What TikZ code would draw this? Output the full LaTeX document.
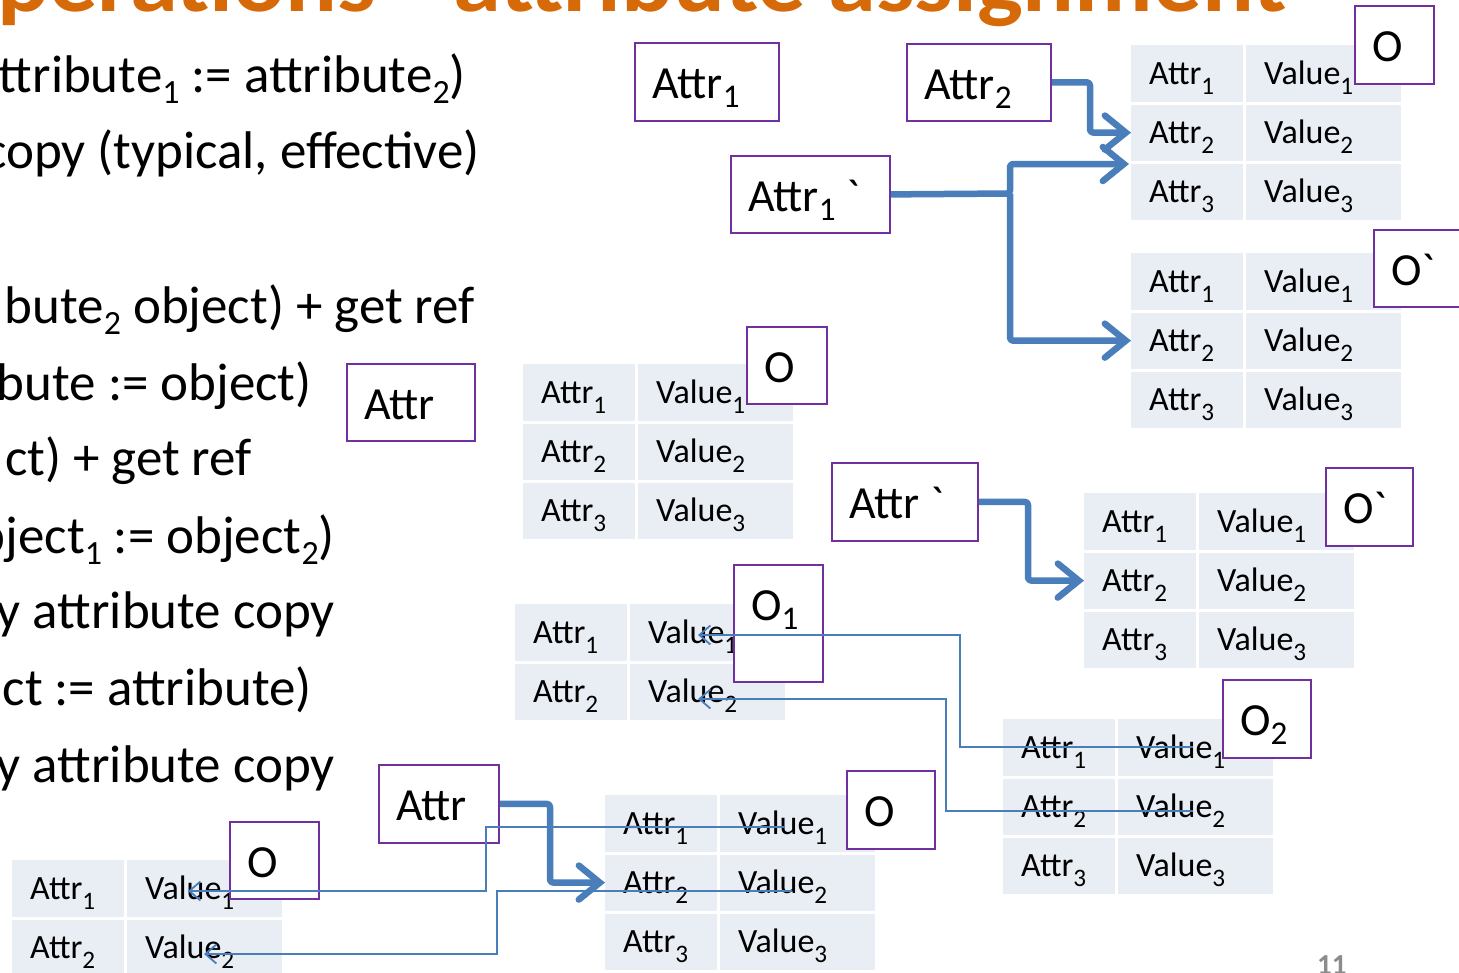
\documentclass[tikz,border=0pt]{standalone}
\usepackage{fontspec}
\setmainfont{Carlito}[Ligatures=TeXOff]
\newfontfamily\titlefont{Carlito}[Ligatures=TeXOff]
\usepackage{graphicx}
\usetikzlibrary{arrows.meta,calc}

\definecolor{boxpurple}{RGB}{112,48,160}
\definecolor{linkblue}{RGB}{74,126,187}
\definecolor{cellfill}{RGB}{233,237,244}
\definecolor{titleorange}{RGB}{214,106,8}
\definecolor{pagegray}{RGB}{140,140,140}

% subscripts for body text, table cells and boxes
\newcommand\subL[1]{\raisebox{-11pt}{\scalebox{0.64}{#1}}}
\newcommand\subT[1]{\raisebox{-10pt}{\scalebox{0.74}{#1}}}
\newcommand\subB[1]{\raisebox{-9pt}{\scalebox{0.72}{#1}}}

\tikzset{
  cell/.style={fill=cellfill, inner sep=0pt, minimum height=56.3pt},
  celltext/.style={inner sep=0pt, font=\fontsize{34}{40}\selectfont},
  obox/.style={draw=boxpurple, line width=1.8pt, fill=white, inner sep=0pt},
  boxtext/.style={inner sep=0pt, font=\fontsize{46}{54}\selectfont},
  bodytext/.style={inner sep=0pt, anchor=base east, font=\fontsize{53}{63}\selectfont},
  thicklink/.style={draw=linkblue, line width=6.5pt, rounded corners=3pt,
    line join=round, -{Straight Barb[length=21pt,width=34pt,line cap=round]}},
  thinlink/.style={draw=linkblue, line width=1.8pt,
    -{Straight Barb[length=11pt,width=19pt]}},
}

% attribute table: prefix, left x, top y, number of rows
\newcommand\attrtable[4]{%
  \foreach \r in {1,...,#4}{%
    \pgfmathsetmacro\yt{#3+(\r-1)*59.3}%
    \node[cell, minimum width=112pt, anchor=north west] (#1a\r) at (#2,\yt) {};
    \node[cell, minimum width=155pt, anchor=north west] (#1v\r) at (#2+115,\yt) {};
    \node[celltext, anchor=base west] (#1at\r) at ($(#1a\r.west)+(18,11)$) {Attr\subT{\r}};
    \node[celltext, anchor=base west] (#1vt\r) at ($(#1v\r.west)+(18,11)$) {Value\subT{\r}};
  }}

% labelled box: name, x1, y1, x2, y2, label
\newcommand\objbox[6]{%
  \node[obox, minimum width=#4-#2, minimum height=#5-#3, anchor=north west] (#1) at (#2,#3) {};
  \node[boxtext, anchor=base west] (#1t) at ($(#1.north west)+(18,56)$) {#6};}

\begin{document}
\begin{tikzpicture}[x=1pt,y=-1pt]
\useasboundingbox (0,0) rectangle (1459,972);
\clip (0,0) rectangle (1459,972);
\fill[white] (0,0) rectangle (1459,972);

% heading
\node[inner sep=0pt, anchor=base west, text=titleorange, xscale=1.075,
  font=\titlefont\bfseries\fontsize{90}{90}\selectfont] (title) at (-3,11)
  {perations –\hskip-14pt\ attribute assignment};

% body text
\node[bodytext] (l1) at (466,92)  {ttribute\subL{1} := attribute\subL{2})};
\node[bodytext] (l2) at (480,168) {copy (typical, effective)};
\node[bodytext] (l3) at (475,323) {bute\subL{2} object) + get ref};
\node[bodytext] (l4) at (312,400) {bute := object)};
\node[bodytext] (l5) at (252,475) {ct) + get ref};
\node[bodytext] (l6) at (335,553) {bject\subL{1} := object\subL{2})};
\node[bodytext] (l7) at (335,628) {y attribute copy};
\node[bodytext] (l8) at (312,705) {ct := attribute)};
\node[bodytext] (l9) at (335,782) {y attribute copy};

% attribute tables
\attrtable{ta}{1131}{45}{3}
\attrtable{tb}{1131}{253}{3}
\attrtable{tc}{523}{364}{3}
\attrtable{td}{1084}{493}{3}
\attrtable{te}{515}{604}{2}
\attrtable{tf}{1003}{719}{3}
\attrtable{tg}{605}{795}{3}
\attrtable{th}{12}{860}{2}

% boxes
\objbox{ba1}{634}{42}{778}{120}{Attr\subB{1}}
\objbox{ba2}{906}{43}{1050}{120}{Attr\subB{2}}
\objbox{ba1p}{730}{155}{889}{232}{Attr\subB{1} `}
\objbox{bat}{346}{363}{474}{440}{Attr}
\objbox{bo1}{1354}{5}{1433}{83}{O}
\objbox{bo2}{1373}{229}{1475}{306}{O`}
\objbox{bo3}{746}{326}{826}{403}{O}
\objbox{batp}{831}{462}{977}{540}{Attr `}
\objbox{bo4}{1325}{467}{1412}{545}{O`}
\objbox{bo5}{733}{564}{822}{681}{O\subB{1}}
\objbox{bo6}{1222}{679}{1310}{757}{O\subB{2}}
\objbox{bab}{378}{764}{498}{842}{Attr}
\objbox{bo7}{229}{821}{318}{898}{O}
\objbox{bo8}{846}{770}{934}{848}{O}

% thick assignment arrows
\coordinate (k1) at (1090,132.5);
\coordinate (k2) at (1010,193.5);
\coordinate (tip1) at (1129,164);
\coordinate (k3) at (1028,580.5);
\coordinate (k4) at (550,882.5);
\draw[thicklink] (ba2.east) -| (k1) -- (taa2.west);
\draw[thicklink] (ba1p.east) -- (k2) |- (tip1);
\draw[thicklink] (k2) |- (tba2.west);
\draw[thicklink] (batp.east) -| (k3) -- (tda2.west);
\draw[thicklink] (bab.east) -| (k4) -- (tga2.west);

% thin reference arrows
\coordinate (a1s) at (1193,747); \coordinate (j1) at (960,635); \coordinate (a1e) at (698,635);
\coordinate (a2s) at (1193,811); \coordinate (j2) at (946,699); \coordinate (a2e) at (698,699);
\coordinate (c1s) at (785,827);  \coordinate (j3) at (486,891); \coordinate (c1e) at (188,891);
\coordinate (c2s) at (792,891);  \coordinate (j4) at (497,954); \coordinate (c2e) at (204,954);
\draw[thinlink] (a1s) -| (j1) -- (a1e);
\draw[thinlink] (a2s) -| (j2) -- (a2e);
\draw[thinlink] (c1s) -| (j3) -- (c1e);
\draw[thinlink] (c2s) -| (j4) -- (c2e);

% page number
\node[inner sep=0pt, anchor=base west, text=pagegray,
  font=\bfseries\fontsize{29}{30}\selectfont] (page) at (1317,974) {11};
\end{tikzpicture}
\end{document}
